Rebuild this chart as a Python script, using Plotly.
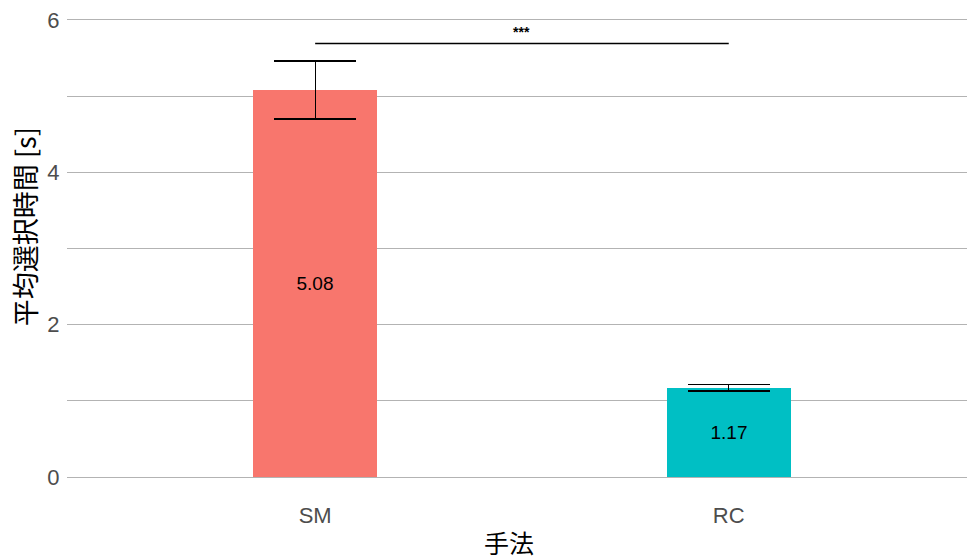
import plotly.graph_objects as go

methods = ["SM", "RC"]
mean_times = [5.08, 1.17]
errors = [0.38, 0.042]
bar_colors = ["#F8766D", "#00BFC4"]
value_labels = ["5.08", "1.17"]
sig_y = 5.69
sig_label = "***"
x_title = "手法"
y_title = "平均選択時間 [s]"

fig = go.Figure()
fig.add_trace(go.Bar(
    x=methods, y=mean_times,
    marker=dict(color=bar_colors, line=dict(width=0)),
    width=0.3,
    error_y=dict(type="data", array=errors, visible=True, color="black", thickness=1.3, width=41),
    text=value_labels, textposition="inside", insidetextanchor="middle",
    textfont=dict(color="black", size=19, family="Liberation Sans, Arial"),
    showlegend=False,
))
fig.add_trace(go.Scatter(
    x=methods, y=[sig_y, sig_y], mode="lines",
    line=dict(color="black", width=1.5), showlegend=False, hoverinfo="skip",
))
fig.add_annotation(x=0.5, y=sig_y, text="<b>" + sig_label + "</b>", showarrow=False,
                   xref="x", yref="y", yshift=12,
                   font=dict(size=14, color="black", family="Liberation Sans, Arial"))
# axis titles
fig.add_annotation(x=0.469, xref="x", y=0, yref="paper", yanchor="middle", yshift=-42,
                   text=x_title, showarrow=False,
                   font=dict(size=25, color="black", family="Noto Sans CJK JP"))
fig.add_annotation(x=0, xref="paper", xanchor="center", xshift=-43, y=3.28, yref="y",
                   text=y_title, textangle=-90, showarrow=False,
                   font=dict(size=27, color="black", family="Noto Sans CJK JP"))

fig.update_layout(
    width=967, height=559,
    margin=dict(l=67, r=0, t=0, b=59),
    plot_bgcolor="white", paper_bgcolor="white",
    bargap=0,
    font=dict(family="Liberation Sans, Arial", color="#4d4d4d"),
)
fig.update_xaxes(
    type="category", range=[-0.6, 1.576],
    showgrid=False, zeroline=False, showline=False,
    ticks="", tickfont=dict(size=22, color="#4d4d4d"),
)
fig.update_yaxes(
    range=[-0.302, 6.262],
    tickvals=[0, 2, 4, 6], ticktext=["0", "2", "4", "6"],
    showgrid=True, gridcolor="#b3b3b3", gridwidth=1,
    minor=dict(tickvals=[1, 3, 5], showgrid=True, gridcolor="#b3b3b3", gridwidth=1),
    zeroline=False, showline=False,
    ticks="outside", ticklen=2, tickcolor="rgba(0,0,0,0)",
    tickfont=dict(size=22, color="#4d4d4d"),
)

fig.write_html("out.html", config={"displayModeBar": False},
               post_script="document.body.style.margin='0';")
